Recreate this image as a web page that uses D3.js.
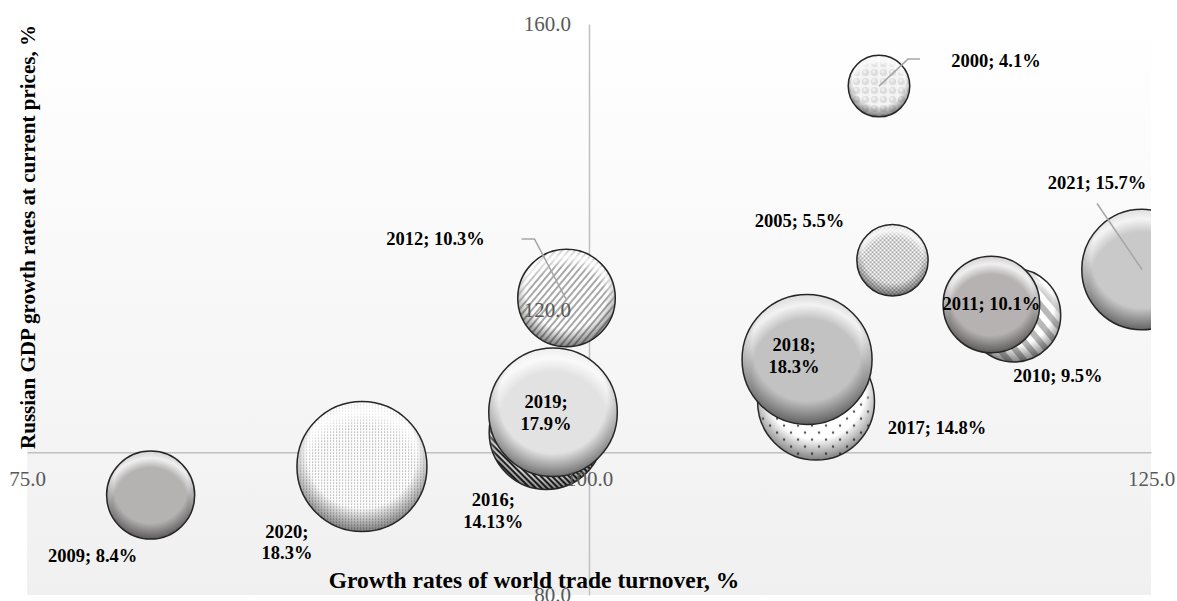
<!DOCTYPE html>
<html>
<head>
<meta charset="utf-8">
<script src="https://cdn.jsdelivr.net/npm/d3@7"></script>
<style>
    body { margin: 0; background: #ffffff; }
    svg text { font-family: "Liberation Serif", "Times New Roman", serif; }
</style>
</head>
<body>
<svg id="chart" width="1177" height="601"></svg>
<script>
// Data
var years = ["2000", "2005", "2009", "2010", "2011", "2012", "2016", "2017", "2018", "2019", "2020", "2021"];
var tradeGrowth = [112.9, 113.5, 80.5, 118.9, 117.9, 99.0, 98.1, 110.1, 109.7, 98.4, 89.9, 124.6];
var gdpGrowth = [151.3, 126.9, 94.0, 119.2, 120.7, 121.6, 102.8, 107.1, 113.0, 105.6, 98.0, 125.6];
var shares = [4.1, 5.5, 8.4, 9.5, 10.1, 10.3, 14.13, 14.8, 18.3, 17.9, 18.3, 15.7];
var shareLabels = ["4.1%", "5.5%", "8.4%", "9.5%", "10.1%", "10.3%", "14.13%", "14.8%", "18.3%", "17.9%", "18.3%", "15.7%"];
var xTicks = [75, 100, 125];
var yTicks = [80, 120, 160];
var xTitle = "Growth rates of world trade turnover, %";
var yTitle = "Russian GDP growth rates at current prices, %";

// Fill of each bubble (pattern id or plain colour)
var fills = ["url(#patSpheres)", "url(#patGrid)", "#b5b2b2", "url(#patWide)", "#b6b2b2", "url(#patFineUp)",
    "url(#patDenseDown)", "url(#patDots)", "#c2c2c2", "#e2e2e2", "url(#patFineDots)", "#c9c9c9"];

// Label placement, offsets in px from the bubble centre
var labelOffsets = [[117, -25], [-93, -39], [-58, 61], [44, 61], [0, -1], [-131, -59],
    [-53, 68], [121, 26], [-13, -14], [-7, -10], [-75, 65], [-45, -87]];
var twoLineLabels = ["2016", "2018", "2019", "2020"];
var leaders = {
    "2000": [[0, 0], [29, -27], [41, -27]],
    "2012": [[0, 2], [-32, -59], [-45, -59]],
    "2021": [[0, 0], [-45, -66]]
};

var svg = d3.select("#chart");

var xScale = d3.scaleLinear().domain([75, 125]).range([27, 1151]);
var yScale = d3.scaleLinear().domain([80, 160]).range([595, 24]);
var rScale = d3.scaleSqrt().domain([0, 18.3]).range([0, 65]);

var defs = svg.append("defs");

// Plot background
var bg = defs.append("linearGradient").attr("id", "plotBg")
    .attr("x1", 0).attr("y1", 0).attr("x2", 0).attr("y2", 1);
bg.append("stop").attr("offset", 0).attr("stop-color", "#ffffff");
bg.append("stop").attr("offset", 1).attr("stop-color", "#f0f0f0");

// Bevel shading
var rimLight = defs.append("radialGradient").attr("id", "rimLight")
    .attr("cx", 0.5).attr("cy", 0.62).attr("r", 0.6);
rimLight.append("stop").attr("offset", 0.72).attr("stop-color", "#fff").attr("stop-opacity", 0);
rimLight.append("stop").attr("offset", 0.9).attr("stop-color", "#fff").attr("stop-opacity", 0.8);
rimLight.append("stop").attr("offset", 1).attr("stop-color", "#fff").attr("stop-opacity", 0.5);

var rimDark = defs.append("radialGradient").attr("id", "rimDark")
    .attr("cx", 0.5).attr("cy", 0.4).attr("r", 0.6);
rimDark.append("stop").attr("offset", 0.7).attr("stop-color", "#000").attr("stop-opacity", 0);
rimDark.append("stop").attr("offset", 1).attr("stop-color", "#000").attr("stop-opacity", 0.5);

// Patterns
var p = defs.append("pattern").attr("id", "patSpheres").attr("patternUnits", "userSpaceOnUse")
    .attr("width", 9).attr("height", 9);
p.append("rect").attr("width", 9).attr("height", 9).attr("fill", "#f4f4f4");
p.append("circle").attr("cx", 4.5).attr("cy", 4.5).attr("r", 3.6).attr("fill", "#dcdcdc");
p.append("circle").attr("cx", 3.8).attr("cy", 3.6).attr("r", 1.6).attr("fill", "#f0f0f0");

p = defs.append("pattern").attr("id", "patGrid").attr("patternUnits", "userSpaceOnUse")
    .attr("width", 4).attr("height", 4);
p.append("rect").attr("width", 4).attr("height", 4).attr("fill", "#ffffff");
p.append("path").attr("d", "M0,0L4,4M4,0L0,4").attr("stroke", "#8f8f8f").attr("stroke-width", 0.8);

p = defs.append("pattern").attr("id", "patWide").attr("patternUnits", "userSpaceOnUse")
    .attr("width", 12).attr("height", 12).attr("patternTransform", "rotate(-40)");
p.append("rect").attr("width", 12).attr("height", 12).attr("fill", "#ffffff");
p.append("rect").attr("width", 6).attr("height", 12).attr("fill", "#b8b8b8");

p = defs.append("pattern").attr("id", "patFineUp").attr("patternUnits", "userSpaceOnUse")
    .attr("width", 5).attr("height", 5).attr("patternTransform", "rotate(40)");
p.append("rect").attr("width", 5).attr("height", 5).attr("fill", "#ffffff");
p.append("rect").attr("width", 2).attr("height", 5).attr("fill", "#a8a8a8");

p = defs.append("pattern").attr("id", "patDenseDown").attr("patternUnits", "userSpaceOnUse")
    .attr("width", 4).attr("height", 4).attr("patternTransform", "rotate(-45)");
p.append("rect").attr("width", 4).attr("height", 4).attr("fill", "#ffffff");
p.append("rect").attr("width", 2).attr("height", 4).attr("fill", "#2a2a2a");

p = defs.append("pattern").attr("id", "patDots").attr("patternUnits", "userSpaceOnUse")
    .attr("width", 14).attr("height", 14);
p.append("rect").attr("width", 14).attr("height", 14).attr("fill", "#ffffff");
p.append("circle").attr("cx", 3).attr("cy", 3).attr("r", 1.2).attr("fill", "#555");
p.append("circle").attr("cx", 10).attr("cy", 10).attr("r", 1.2).attr("fill", "#555");

p = defs.append("pattern").attr("id", "patFineDots").attr("patternUnits", "userSpaceOnUse")
    .attr("width", 3).attr("height", 3);
p.append("rect").attr("width", 3).attr("height", 3).attr("fill", "#ffffff");
p.append("rect").attr("x", 1).attr("y", 1).attr("width", 1.2).attr("height", 1.2).attr("fill", "#a0a0a0");

defs.append("clipPath").attr("id", "plotClip")
    .append("rect")
    .attr("x", xScale(75)).attr("y", yScale(160))
    .attr("width", xScale(125) - xScale(75))
    .attr("height", yScale(80) - yScale(160));

// Plot area
svg.append("rect")
    .attr("x", xScale(75)).attr("y", yScale(160))
    .attr("width", xScale(125) - xScale(75))
    .attr("height", yScale(80) - yScale(160))
    .attr("fill", "url(#plotBg)");

// Axis lines (behind the bubbles)
var xAxis = d3.axisBottom(xScale).tickValues(xTicks).tickSize(0).tickSizeOuter(0)
    .tickPadding(19).tickFormat(d3.format(".1f"));
var yAxis = d3.axisLeft(yScale).tickValues(yTicks).tickSize(0).tickSizeOuter(0)
    .tickPadding(18).tickFormat(d3.format(".1f"));

var xLine = svg.append("g").attr("transform", "translate(0," + yScale(100) + ")").call(xAxis);
xLine.selectAll(".tick").remove();
xLine.select(".domain").attr("stroke", "#c0c0c0").attr("stroke-width", 1.5);

var yLine = svg.append("g").attr("transform", "translate(" + xScale(100) + ",0)").call(yAxis);
yLine.selectAll(".tick").remove();
yLine.select(".domain").attr("stroke", "#c0c0c0").attr("stroke-width", 1.5);

// Bubbles
var bubbles = years.map(function (d, i) {
    return { year: d, x: tradeGrowth[i], y: gdpGrowth[i], size: shares[i], label: shareLabels[i], fill: fills[i], off: labelOffsets[i] };
});

var bubbleG = svg.append("g").attr("clip-path", "url(#plotClip)")
    .selectAll("g").data(bubbles).join("g")
    .attr("transform", d => "translate(" + xScale(d.x) + "," + yScale(d.y) + ")");

bubbleG.append("circle").attr("r", d => rScale(d.size)).attr("fill", d => d.fill);
bubbleG.append("circle").attr("r", d => rScale(d.size)).attr("fill", "url(#rimLight)");
bubbleG.append("circle").attr("r", d => rScale(d.size)).attr("fill", "url(#rimDark)");
bubbleG.append("circle").attr("r", d => rScale(d.size))
    .attr("fill", "none").attr("stroke", "#262626").attr("stroke-width", 1.5);

// Tick labels (on top of the bubbles)
var xLab = svg.append("g").attr("transform", "translate(0," + yScale(100) + ")").call(xAxis);
xLab.select(".domain").remove();
xLab.selectAll("text").attr("fill", "#595959").style("font-size", "21px")
    .style("font-family", "'Liberation Serif', serif");

var yLab = svg.append("g").attr("transform", "translate(" + xScale(100) + ",0)").call(yAxis);
yLab.select(".domain").remove();
yLab.selectAll("text").attr("fill", "#595959").style("font-size", "21px")
    .style("font-family", "'Liberation Serif', serif");

// Leader lines
var line = d3.line();
svg.append("g").selectAll("path")
    .data(bubbles.filter(d => leaders[d.year]))
    .join("path")
    .attr("d", d => line(leaders[d.year].map(q => [xScale(d.x) + q[0], yScale(d.y) + q[1]])))
    .attr("fill", "none").attr("stroke", "#a6a6a6").attr("stroke-width", 1.5);

// Data labels
var labels = svg.append("g").selectAll("text").data(bubbles).join("text")
    .attr("text-anchor", "middle")
    .attr("dominant-baseline", "central")
    .attr("font-weight", "bold")
    .attr("font-size", "18.5px")
    .attr("fill", "#000");

labels.each(function (d) {
    var t = d3.select(this);
    var cx = xScale(d.x) + d.off[0];
    var cy = yScale(d.y) + d.off[1];
    if (twoLineLabels.indexOf(d.year) >= 0) {
        t.append("tspan").attr("x", cx).attr("y", cy).text(d.year + ";");
        t.append("tspan").attr("x", cx).attr("y", cy + 21.5).text(d.label);
    } else {
        t.attr("x", cx).attr("y", cy).text(d.year + "; " + d.label);
    }
});

// Axis titles
svg.append("text")
    .attr("x", 534).attr("y", 588)
    .attr("text-anchor", "middle")
    .attr("font-weight", "bold").attr("font-size", "23.5px")
    .text(xTitle);

svg.append("text")
    .attr("transform", "translate(35,237) rotate(-90)")
    .attr("text-anchor", "middle")
    .attr("font-weight", "bold").attr("font-size", "21px")
    .text(yTitle);
</script>
</body>
</html>
